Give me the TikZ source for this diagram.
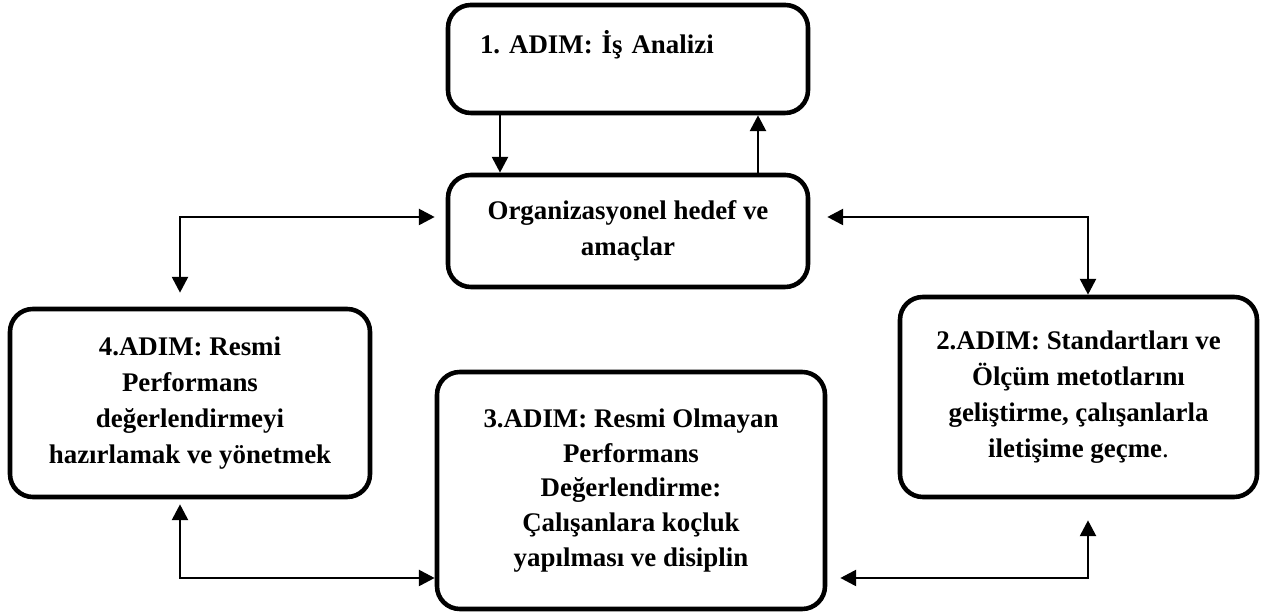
\documentclass[tikz,border=0pt]{standalone}
\usepackage{fontspec}
\setmainfont{Liberation Serif}
\usetikzlibrary{arrows.meta,calc}
\frenchspacing

\begin{document}
\begin{tikzpicture}[
                  box/.style={draw, line width=2.6pt, rounded corners=13pt, align=center,
                              inner sep=0pt, font=\fontsize{15.3}{20.4}\selectfont\bfseries},
                  link/.style={line width=1.6pt, -{Triangle[length=9pt,width=9pt]}},
                  twoway/.style={line width=1.6pt,
                              {Triangle[length=9pt,width=9pt]}-{Triangle[length=9pt,width=9pt]}}
              ]
                  \useasboundingbox (0,0) rectangle (25.34,12.28);
                  \node[box, align=left, text width=5.92cm, inner xsep=0.64cm,
                        minimum height=2.16cm, text height=12pt, text depth=18pt]
                        (adim1) at (12.56,11.10) {1. ADIM: İş Analizi};
                  \node[box, minimum width=7.2cm, minimum height=2.24cm]
                        (hedef) at (12.56,7.66) {Organizasyonel hedef ve\\amaçlar};
                  \node[box, minimum width=7.2cm, minimum height=3.76cm]
                        (adim4) at (3.8,4.22) {4.ADIM: Resmi\\Performans\\değerlendirmeyi\\hazırlamak ve yönetmek};
                  \node[box, minimum width=7.76cm, minimum height=4.74cm,
                        font=\fontsize{15.3}{19.8}\selectfont\bfseries]
                        (adim3) at (12.62,2.47) {3.ADIM: Resmi Olmayan\\Performans\\Değerlendirme:\\Çalışanlara koçluk\\yapılması ve disiplin};
                  \node[box, minimum width=7.14cm, minimum height=4.0cm]
                        (adim2) at (21.57,4.34) {2.ADIM: Standartları ve\\Ölçüm metotlarını\\geliştirme, çalışanlarla\\iletişime geçme{\mdseries .}};
                  \draw[link] ([xshift=-2.56cm]adim1.south) -- ([xshift=-2.56cm]hedef.north);
                  \draw[link] ([xshift=2.6cm]hedef.north) -- ([xshift=2.6cm]adim1.south);
                  \draw[twoway] ([xshift=-0.22cm,yshift=0.28cm]hedef.west) -| ([xshift=-0.2cm,yshift=0.28cm]adim4.north);
                  \draw[twoway] ([xshift=0.34cm,yshift=0.28cm]hedef.east) -| ([xshift=0.19cm]adim2.north);
                  \draw[twoway] ([xshift=-0.2cm,yshift=-0.1cm]adim4.south) |- ([yshift=-1.75cm]adim3.west);
                  \draw[twoway] ([xshift=0.26cm,yshift=-1.75cm]adim3.east) -| ([xshift=0.19cm,yshift=-0.42cm]adim2.south);
              \end{tikzpicture}
\end{document}
